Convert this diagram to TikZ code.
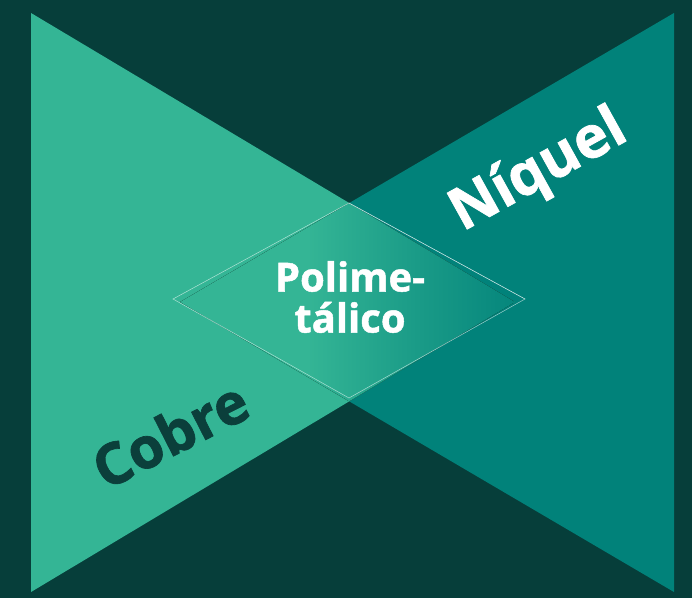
\documentclass[tikz,border=0pt]{standalone}
\usepackage{fontspec}
\setmainfont{Open Sans}[BoldFeatures={FakeBold=1.2}]
\definecolor{bg}{HTML}{063E3A}
\definecolor{lt}{HTML}{34B595}
\definecolor{dk}{HTML}{01827A}
\definecolor{txtdk}{HTML}{0B3F3B}
\pgfdeclarehorizontalshading{overlapshade}{100bp}{color(0bp)=(lt); color(44bp)=(lt); color(60bp)=(lt!50!dk); color(78bp)=(dk); color(100bp)=(dk)}
\tikzset{
  lbl/.style={font=\bfseries, align=center, inner sep=0pt},
}
\begin{document}
\begin{tikzpicture}[x=1pt,y=-1pt]
\useasboundingbox (0,0) rectangle (692,598);
\fill[bg] (0,0) rectangle (692,598);
% right triangle (Niquel)
\fill[dk] (674,13) -- (674,592) -- (180,302) -- cycle;
% left triangle (Cobre)
\fill[lt] (31,13) -- (31,592) -- (515,302) -- cycle;
% overlap with gradient
\begin{scope}
  \clip (31,13) -- (31,592) -- (515,302) -- cycle;
  \clip (674,13) -- (674,592) -- (180,302) -- cycle;
  \fill[shading=overlapshade] (180,200) rectangle (515,402);
\end{scope}
% diamond outline
\coordinate (dl) at (173,299);
\coordinate (dt) at (349,203);
\coordinate (dr) at (525,299);
\coordinate (db) at (349,398);
\draw[white, opacity=0.6, line width=0.5pt] (dl) -- (dt) -- (dr) -- (db) -- cycle;
\draw[white, opacity=0.5, line width=0.5pt] (dt) -- (dr);
% labels
\node[lbl, text=white, font=\bfseries\fontsize{40}{41}\selectfont] (poly) at (350,297) {Polime-\\tálico};
\node[lbl, text=txtdk, font=\bfseries\fontsize{57}{57}\selectfont, rotate=27] (cobre) at (170,434) {Cobre};
\node[lbl, text=white, font=\bfseries\fontsize{58}{58}\selectfont, rotate=29] (niquel) at (539,172) {Níquel};
\end{tikzpicture}
\end{document}
